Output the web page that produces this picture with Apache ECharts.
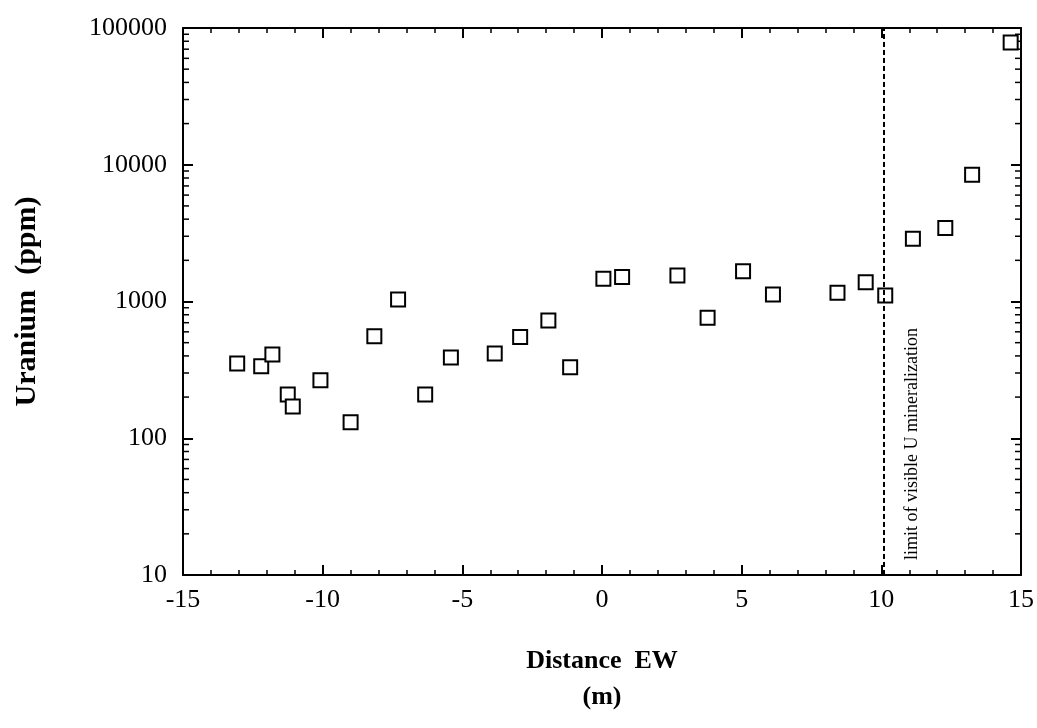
<!DOCTYPE html>
<html><head><meta charset="utf-8">
<script src="https://cdn.jsdelivr.net/npm/echarts@6/dist/echarts.min.js"></script>
<style>html,body{margin:0;padding:0;background:#fff}#c{width:1037px;height:728px}</style>
</head><body><div id="c"></div>
<script>
const distance = [-13.06,-12.2,-11.8,-11.25,-11.07,-10.08,-9.0,-8.15,-7.3,-6.33,-5.41,-3.84,-2.93,-1.92,-1.14,0.05,0.72,2.7,3.78,5.05,6.12,8.43,9.44,10.14,11.13,12.29,13.25,14.63];
const uranium = [352,336,410,209,171,265,131,556,1035,209,390,417,549,726,331,1465,1513,1549,760,1665,1125,1157,1384,1106,2872,3452,8450,78200];
const limitX = 10.1;
const limitLabel = 'limit of visible U mineralization';
const minorValues = [];
for (let e = 1; e <= 4; e++) for (let m = 2; m <= 9; m++) minorValues.push(m * Math.pow(10, e));

const FONT = 'Liberation Serif';
const chart = echarts.init(document.getElementById('c'));
const xBase = {
  type: 'value', min: -15, max: 15, interval: 5,
  axisLine: {onZero: false, lineStyle: {color: '#000', width: 2}},
  axisTick: {inside: true, length: 10, lineStyle: {color: '#000', width: 2}},
  minorTick: {show: true, splitNumber: 5, length: 5, lineStyle: {color: '#000', width: 1.5}},
  splitLine: {show: false}
};
const yBase = {
  type: 'log', logBase: 10, min: 10, max: 100000,
  axisLine: {onZero: false, lineStyle: {color: '#000', width: 2}},
  axisTick: {inside: true, length: 10, lineStyle: {color: '#000', width: 2}},
  splitLine: {show: false}
};
chart.setOption({
  animation: false,
  backgroundColor: '#fff',
  grid: {left: 183, right: 14, top: 28, bottom: 153, containLabel: false},
  xAxis: [
    Object.assign({}, xBase, {position: 'bottom',
      axisLabel: {color: '#000', fontFamily: FONT, fontSize: 26, margin: 12},
      name: 'Distance  EW\n(m)', nameLocation: 'middle', nameGap: 68,
      nameTextStyle: {color: '#000', fontFamily: FONT, fontSize: 26, fontWeight: 'bold', lineHeight: 36}}),
    Object.assign({}, xBase, {position: 'top', axisLabel: {show: false}})
  ],
  yAxis: [
    Object.assign({}, yBase, {position: 'left',
      axisLabel: {color: '#000', fontFamily: FONT, fontSize: 26, margin: 16, formatter: v => String(Math.round(v))},
      name: 'Uranium  (ppm)', nameLocation: 'middle', nameGap: 141, nameRotate: 90,
      nameTextStyle: {color: '#000', fontFamily: FONT, fontSize: 30, fontWeight: 'bold'}}),
    Object.assign({}, yBase, {position: 'right', axisLabel: {show: false}})
  ],
  series: [
    {
      type: 'custom', xAxisIndex: 0, yAxisIndex: 0, silent: true, clip: false,
      data: minorValues.map(v => [-15, v]),
      renderItem: function (params, api) {
        const cs = params.coordSys;
        const y = api.coord([-15, api.value(1)])[1];
        const st = {stroke: '#000', lineWidth: 1.5};
        return {type: 'group', children: [
          {type: 'line', shape: {x1: cs.x, y1: y, x2: cs.x + 6, y2: y}, style: st},
          {type: 'line', shape: {x1: cs.x + cs.width - 6, y1: y, x2: cs.x + cs.width, y2: y}, style: st}
        ]};
      }
    },
    {
      type: 'scatter', xAxisIndex: 0, yAxisIndex: 0,
      data: distance.map((d, i) => [d, uranium[i]]),
      symbol: 'rect', symbolSize: 14,
      itemStyle: {color: '#fff', borderColor: '#000', borderWidth: 2, opacity: 1},
      markLine: {
        silent: true, symbol: ['none', 'none'], z: 5,
        lineStyle: {color: '#000', type: [5, 3], width: 2},
        label: {show: false},
        data: [{xAxis: limitX}]
      }
    }
  ],
  graphic: [{
    type: 'text', x: 912, y: 560, rotation: Math.PI / 2,
    style: {text: limitLabel, fontFamily: FONT, fontSize: 18, fill: '#000', textAlign: 'left', textVerticalAlign: 'middle'}
  }]
});
</script></body></html>
